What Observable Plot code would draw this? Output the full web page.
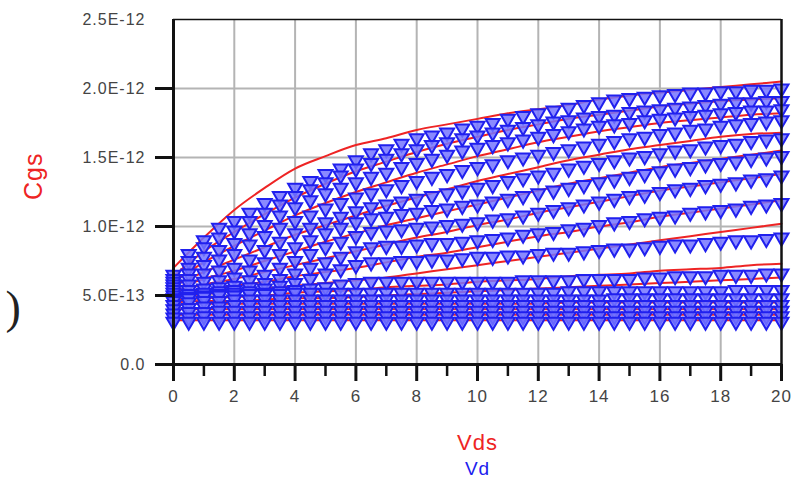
<!DOCTYPE html>
<html><head><meta charset="utf-8">
<script src="https://cdn.jsdelivr.net/npm/d3@7"></script>
<script src="https://cdn.jsdelivr.net/npm/@observablehq/plot@0.6"></script>
<style>
html,body{margin:0;padding:0;background:#fff;}
#chart{width:803px;height:485px;overflow:hidden;}
#chart svg text{letter-spacing:1px;}
</style></head><body><div id="chart"></div>
<script>
// Capacitance values are in units of 1e-12 F (pF)
const UNIT = 1e-12;

// Measured (blue markers) – Vd sweep
const vdMeas = [0,0.5,1,1.5,2,2.5,3,3.5,4,4.5,5,5.5,6,6.5,7,7.5,8,8.5,9,9.5,10,10.5,11,11.5,12,12.5,13,13.5,14,14.5,15,15.5,16,16.5,17,17.5,18,18.5,19,19.5,20];
const meas1  = [0.65,0.80,0.90,0.99,1.04,1.10,1.17,1.22,1.28,1.33,1.38,1.42,1.48,1.53,1.56,1.60,1.64,1.66,1.68,1.71,1.73,1.75,1.78,1.80,1.82,1.84,1.86,1.88,1.90,1.92,1.93,1.94,1.95,1.96,1.97,1.97,1.98,1.98,1.99,1.99,2.00];
const meas2  = [0.62,0.75,0.85,0.92,0.97,1.04,1.10,1.16,1.22,1.27,1.32,1.37,1.42,1.46,1.49,1.53,1.56,1.59,1.61,1.64,1.66,1.68,1.70,1.72,1.74,1.76,1.77,1.79,1.80,1.81,1.83,1.84,1.85,1.86,1.87,1.88,1.89,1.90,1.90,1.91,1.91];
const meas3  = [0.60,0.70,0.78,0.83,0.88,0.95,1.01,1.08,1.14,1.19,1.24,1.28,1.32,1.36,1.39,1.43,1.46,1.49,1.52,1.55,1.57,1.59,1.61,1.63,1.65,1.67,1.69,1.71,1.73,1.74,1.75,1.77,1.78,1.79,1.80,1.81,1.82,1.83,1.84,1.84,1.85];
const meas4  = [0.58,0.66,0.72,0.76,0.80,0.87,0.93,0.99,1.04,1.08,1.13,1.17,1.21,1.24,1.27,1.30,1.33,1.36,1.38,1.41,1.43,1.45,1.48,1.50,1.52,1.54,1.56,1.58,1.60,1.62,1.64,1.65,1.67,1.68,1.70,1.71,1.73,1.74,1.75,1.76,1.77];
const meas5  = [0.56,0.62,0.66,0.68,0.70,0.76,0.83,0.89,0.95,0.99,1.03,1.07,1.11,1.14,1.16,1.18,1.20,1.22,1.24,1.26,1.28,1.30,1.33,1.35,1.37,1.39,1.42,1.44,1.46,1.48,1.50,1.51,1.53,1.55,1.56,1.58,1.59,1.60,1.62,1.63,1.64];
const meas6  = [0.54,0.58,0.60,0.61,0.63,0.68,0.74,0.80,0.85,0.90,0.95,0.99,1.03,1.06,1.07,1.09,1.10,1.12,1.13,1.15,1.16,1.18,1.20,1.22,1.24,1.26,1.28,1.30,1.32,1.34,1.36,1.38,1.40,1.42,1.43,1.45,1.46,1.47,1.49,1.50,1.51];
const meas7  = [0.52,0.54,0.55,0.56,0.57,0.61,0.65,0.70,0.75,0.80,0.85,0.89,0.93,0.96,0.97,0.98,0.99,1.00,1.01,1.02,1.03,1.05,1.06,1.08,1.10,1.12,1.14,1.16,1.18,1.20,1.22,1.23,1.25,1.27,1.28,1.30,1.31,1.32,1.34,1.35,1.37];
const meas8  = [0.50,0.51,0.52,0.53,0.54,0.56,0.59,0.62,0.66,0.70,0.74,0.78,0.82,0.85,0.86,0.86,0.87,0.88,0.88,0.89,0.90,0.91,0.92,0.94,0.95,0.96,0.98,0.99,1.01,1.03,1.04,1.06,1.07,1.08,1.10,1.11,1.12,1.13,1.15,1.16,1.17];
const meas9  = [0.48,0.49,0.50,0.51,0.52,0.53,0.55,0.57,0.59,0.62,0.66,0.69,0.72,0.74,0.74,0.75,0.75,0.76,0.76,0.77,0.78,0.78,0.79,0.79,0.80,0.81,0.81,0.82,0.83,0.84,0.84,0.85,0.86,0.87,0.87,0.88,0.89,0.90,0.90,0.91,0.92];
const meas10 = [0.47,0.48,0.49,0.50,0.50,0.51,0.52,0.53,0.54,0.55,0.56,0.58,0.59,0.60,0.60,0.60,0.60,0.60,0.60,0.60,0.60,0.60,0.60,0.61,0.61,0.61,0.61,0.62,0.62,0.62,0.62,0.63,0.63,0.64,0.64,0.64,0.65,0.65,0.65,0.66,0.66];
const meas11 = [0.46,0.48,0.49,0.50,0.50,0.51,0.51,0.51,0.52,0.52,0.52,0.52,0.52,0.52,0.52,0.52,0.52,0.52,0.52,0.52,0.52,0.52,0.52,0.52,0.52,0.52,0.53,0.53,0.53,0.53,0.53,0.53,0.53,0.53,0.53,0.53,0.53,0.54,0.54,0.54,0.54];
const meas12 = [0.43,0.45,0.46,0.46,0.47,0.47,0.47,0.47,0.47,0.47,0.47,0.47,0.47,0.47,0.47,0.47,0.47,0.47,0.47,0.47,0.47,0.47,0.47,0.47,0.47,0.47,0.47,0.47,0.47,0.48,0.48,0.48,0.48,0.48,0.48,0.48,0.48,0.48,0.48,0.48,0.48];
const meas13 = [0.40,0.41,0.42,0.42,0.43,0.43,0.43,0.43,0.43,0.43,0.43,0.43,0.43,0.43,0.43,0.43,0.43,0.43,0.43,0.43,0.43,0.43,0.43,0.43,0.43,0.43,0.43,0.43,0.43,0.43,0.43,0.43,0.43,0.43,0.43,0.43,0.43,0.43,0.43,0.43,0.43];
const meas14 = [0.37,0.38,0.38,0.39,0.39,0.39,0.39,0.39,0.39,0.39,0.39,0.39,0.39,0.39,0.39,0.39,0.39,0.39,0.39,0.39,0.39,0.39,0.39,0.39,0.39,0.39,0.39,0.39,0.39,0.39,0.39,0.39,0.39,0.39,0.39,0.39,0.39,0.39,0.39,0.39,0.39];
const meas15 = [0.34,0.34,0.35,0.35,0.35,0.35,0.35,0.35,0.35,0.35,0.35,0.35,0.35,0.35,0.35,0.35,0.35,0.35,0.35,0.35,0.35,0.35,0.35,0.35,0.35,0.35,0.35,0.35,0.35,0.35,0.35,0.35,0.35,0.35,0.35,0.35,0.35,0.35,0.35,0.35,0.35];
const meas16 = [0.31,0.31,0.31,0.31,0.31,0.31,0.31,0.31,0.31,0.31,0.31,0.31,0.31,0.31,0.31,0.31,0.31,0.31,0.31,0.31,0.31,0.31,0.31,0.31,0.31,0.31,0.31,0.31,0.31,0.31,0.31,0.31,0.31,0.31,0.31,0.31,0.31,0.31,0.31,0.31,0.31];

// Model (red lines) – Vds sweep
const vdsModel = [0,1,2,3,4,5,6,7,8,9,10,11,12,13,14,15,16,17,18,19,20];
const model1  = [0.70,0.92,1.12,1.28,1.42,1.51,1.59,1.64,1.70,1.74,1.78,1.82,1.85,1.88,1.92,1.95,1.97,1.99,2.01,2.03,2.05];
const model2  = [0.64,0.82,0.96,1.09,1.21,1.31,1.40,1.47,1.54,1.60,1.65,1.70,1.74,1.78,1.81,1.84,1.87,1.89,1.91,1.92,1.93];
const model3  = [0.60,0.74,0.86,0.97,1.08,1.17,1.25,1.32,1.39,1.45,1.51,1.56,1.61,1.65,1.69,1.72,1.75,1.77,1.79,1.81,1.82];
const model4  = [0.57,0.67,0.76,0.85,0.94,1.01,1.08,1.15,1.21,1.27,1.33,1.38,1.43,1.48,1.52,1.56,1.59,1.62,1.65,1.67,1.68];
const model5  = [0.55,0.62,0.68,0.75,0.82,0.89,0.95,1.01,1.06,1.11,1.16,1.21,1.26,1.31,1.35,1.39,1.43,1.46,1.49,1.52,1.55];
const model6  = [0.53,0.58,0.62,0.67,0.72,0.77,0.82,0.87,0.92,0.96,1.01,1.05,1.10,1.14,1.18,1.22,1.26,1.29,1.32,1.35,1.38];
const model7  = [0.51,0.54,0.57,0.60,0.64,0.67,0.70,0.74,0.78,0.81,0.85,0.89,0.93,0.96,1.00,1.03,1.07,1.10,1.13,1.16,1.19];
const model8  = [0.49,0.51,0.53,0.55,0.57,0.59,0.61,0.63,0.66,0.69,0.72,0.75,0.78,0.81,0.84,0.87,0.90,0.93,0.96,0.99,1.02];
const model9  = [0.47,0.48,0.49,0.50,0.52,0.53,0.54,0.56,0.57,0.58,0.60,0.61,0.62,0.64,0.65,0.66,0.68,0.69,0.70,0.72,0.73];
const model10 = [0.45,0.46,0.46,0.47,0.48,0.48,0.49,0.50,0.51,0.52,0.53,0.54,0.55,0.56,0.57,0.58,0.59,0.60,0.61,0.62,0.63];
const model11 = [0.43,0.44,0.44,0.44,0.44,0.44,0.44,0.44,0.44,0.44,0.44,0.44,0.44,0.45,0.45,0.45,0.45,0.45,0.45,0.45,0.45];
const model12 = [0.40,0.40,0.40,0.40,0.40,0.40,0.40,0.40,0.40,0.40,0.40,0.40,0.40,0.40,0.40,0.40,0.40,0.40,0.40,0.40,0.40];
const model13 = [0.36,0.36,0.36,0.36,0.36,0.36,0.36,0.36,0.36,0.36,0.36,0.36,0.36,0.36,0.36,0.36,0.36,0.36,0.36,0.36,0.36];
const model14 = [0.32,0.32,0.32,0.32,0.32,0.32,0.32,0.32,0.32,0.32,0.32,0.32,0.32,0.32,0.32,0.32,0.32,0.32,0.32,0.32,0.32];

// Axis ticks
const xMajorTicks = [0,2,4,6,8,10,12,14,16,18,20];
const xMinorTicks = [1,3,5,7,9,11,13,15,17,19];
const xGridTicks = [2,4,6,8,10,12,14,16,18];
const yTicksMarked = [0, 0.5, 1.0, 1.5, 2.0];
const yTopTick = [2.5];
const yGridTicks = [0.5, 1.0, 1.5, 2.0];

const measSeries = [meas1,meas2,meas3,meas4,meas5,meas6,meas7,meas8,meas9,meas10,meas11,meas12,meas13,meas14,meas15,meas16];
const modelSeries = [model1,model2,model3,model4,model5,model6,model7,model8,model9,model10,model11,model12,model13,model14];

const measData = measSeries.flatMap((s, k) => s.map((v, i) => ({curve: k, x: vdMeas[i], y: v * UNIT})));
const modelData = modelSeries.flatMap((s, k) => s.map((v, i) => ({curve: k, x: vdsModel[i], y: v * UNIT})));

const RED = "#ee2424";
const BLUE = "#2020ee";
const fmt = d => d === 0 ? "0.0" : d.toExponential(1).toUpperCase();

const chart = Plot.plot({
  width: 803,
  height: 485,
  marginLeft: 173,
  marginRight: 22,
  marginTop: 19,
  marginBottom: 121,
  style: {fontFamily: "'Liberation Sans', Arial, sans-serif", fontSize: "16px", background: "#fff", color: "#333"},
  x: {domain: [0, 20]},
  y: {domain: [0, 2.5 * UNIT]},
  marks: [
    Plot.gridX(xGridTicks, {stroke: "#b4b4b4", strokeOpacity: 1, strokeWidth: 2}),
    Plot.gridY(yGridTicks.map(d => d * UNIT), {stroke: "#b4b4b4", strokeOpacity: 1, strokeWidth: 2}),
    Plot.line(modelData, {x: "x", y: "y", z: "curve", stroke: RED, strokeWidth: 2, curve: "monotone-x"}),
    Plot.dot(measData, {x: "x", y: "y", symbol: "triangle", rotate: 180, r: 5.2, fill: "#7474ff", fillOpacity: 0.85, stroke: BLUE, strokeWidth: 2}),
    Plot.ruleY([2.5 * UNIT], {stroke: "#111", strokeWidth: 1.3}),
    Plot.ruleX([20], {stroke: "#111", strokeWidth: 2.5}),
    Plot.ruleX([0], {stroke: "#111", strokeWidth: 3}),
    Plot.ruleY([0], {stroke: "#111", strokeWidth: 3}),
    Plot.axisY({ticks: yTicksMarked.map(d => d * UNIT), tickFormat: fmt, tickSize: 18, tickPadding: 10, stroke: "#111", strokeWidth: 3, fill: "#444", label: null}),
    Plot.axisY({ticks: yTopTick.map(d => d * UNIT), tickFormat: fmt, tickSize: 0, tickPadding: 28, fill: "#444", label: null}),
    Plot.axisX({ticks: xMajorTicks, tickSize: 17, tickPadding: 8, stroke: "#111", strokeWidth: 3, fill: "#444", fontSize: 17, label: null}),
    Plot.axisX({ticks: xMinorTicks, tickSize: 12, tickFormat: () => "", stroke: "#111", strokeWidth: 2.5, label: null}),
    Plot.text(["Vds"], {frameAnchor: "bottom", dy: 85, fill: RED, fontSize: 22}),
    Plot.text(["Vd"], {frameAnchor: "bottom", dy: 110, fill: BLUE, fontSize: 19}),
    Plot.text(["Cgs"], {frameAnchor: "left", dx: -140, dy: 8, rotate: -90, fill: RED, fontSize: 25}),
    Plot.text([")"], {frameAnchor: "left", dx: -168, dy: 116, fill: "#222", fontSize: 46, fontFamily: "'Liberation Serif', serif"})
  ]
});
document.getElementById("chart").appendChild(chart);
</script>
</body></html>
